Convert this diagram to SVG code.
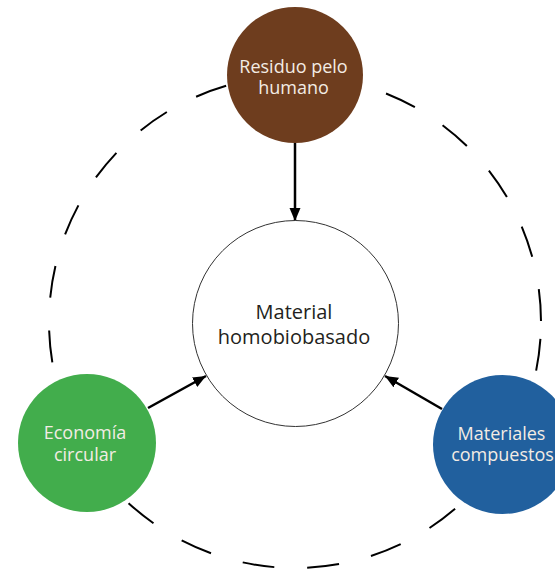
<svg xmlns="http://www.w3.org/2000/svg" width="555" height="571" viewBox="0 0 555 571">
<style>
.lbl{font-family:"Open Sans","Noto Sans",sans-serif;text-anchor:middle}
.wt{fill:#f3ece4;font-size:18px}
.ct{fill:#231f20;font-size:20px}
.arr{stroke:#000;stroke-width:2.5;fill:none;marker-end:url(#ah)}
</style>
<defs>
<marker id="ah" markerUnits="userSpaceOnUse" markerWidth="14" markerHeight="12" refX="13" refY="5.5" orient="auto">
<path d="M0,0 L13,5.5 L0,11 z" fill="#000"/>
</marker>
</defs>
<rect width="555" height="571" fill="#fff"/>
<circle id="ring" cx="295" cy="322" r="246" fill="none" stroke="#000" stroke-width="2" stroke-dasharray="32 33" stroke-dashoffset="48"/>
<g id="connectors">
<line class="arr" x1="295" y1="143" x2="295" y2="221"/>
<line class="arr" x1="148" y1="408" x2="206" y2="376"/>
<line class="arr" x1="442" y1="409" x2="385" y2="376"/>
</g>
<g id="center">
<circle cx="295.5" cy="323.5" r="103" fill="#fff" stroke="#333" stroke-width="1"/>
<text class="lbl ct" x="294" y="319">Material</text>
<text class="lbl ct" x="294" y="343.5">homobiobasado</text>
</g>
<g id="residuo">
<circle cx="295" cy="75" r="68" fill="#6e3d1e"/>
<text class="lbl wt" x="293.5" y="72.5">Residuo pelo</text>
<text class="lbl wt" x="293.5" y="93.5">humano</text>
</g>
<g id="economia">
<circle cx="87" cy="443" r="69" fill="#42ad4c"/>
<text class="lbl wt" x="85" y="439">Economía</text>
<text class="lbl wt" x="85" y="460.5">circular</text>
</g>
<g id="materiales">
<circle cx="502.5" cy="444.5" r="69.5" fill="#21609e"/>
<text class="lbl wt" x="501.5" y="440">Materiales</text>
<text class="lbl wt" x="502.5" y="461">compuestos</text>
</g>
</svg>
